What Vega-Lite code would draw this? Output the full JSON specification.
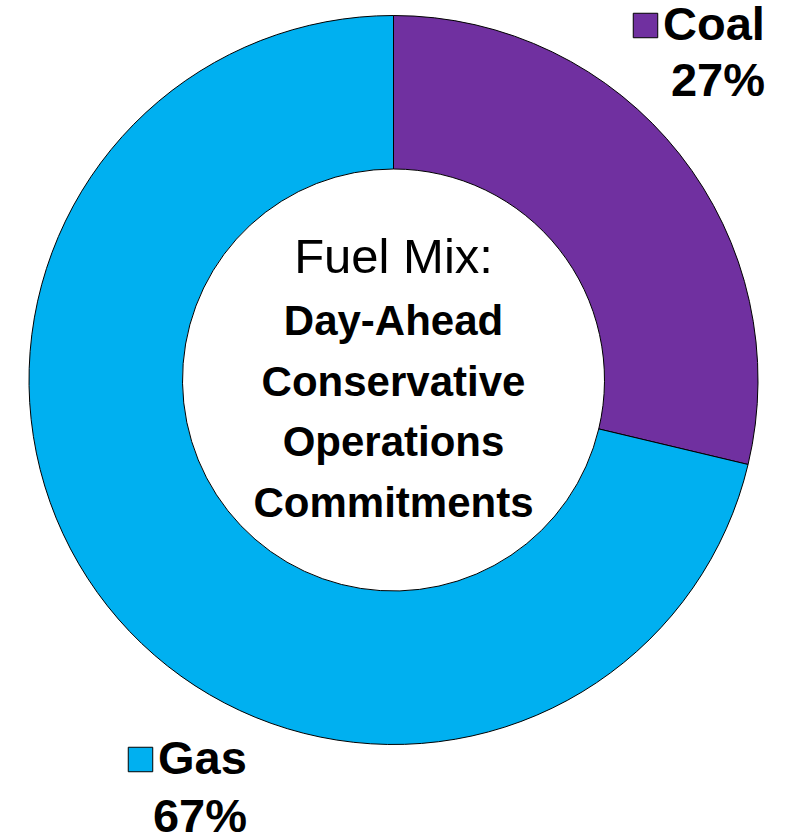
{
  "$schema": "https://vega.github.io/schema/vega-lite/v6.json",
  "width": 787,
  "height": 760,
  "autosize": {"type": "none"},
  "padding": {"left": 0, "top": 0, "right": 3, "bottom": 79},
  "background": "#ffffff",
  "config": {"view": {"stroke": null}},
  "data": {"values": [{"fuel": "Coal", "share": 27}, {"fuel": "Gas", "share": 67}]},
  "transform": [
    {"stack": "share", "groupby": [], "sort": [{"field": "fuel", "order": "ascending"}], "as": ["start", "end"]}
  ],
  "layer": [
    {
      "transform": [{"filter": "datum.fuel === 'Coal'"}],
      "mark": {"type": "arc", "outerRadius": 364.5, "innerRadius": 211, "stroke": "#000000", "strokeWidth": 1},
      "encoding": {
        "theta": {"field": "start", "type": "quantitative", "scale": {"domain": [0, 94]}},
        "theta2": {"field": "end"},
        "color": {
          "field": "fuel", "type": "nominal",
          "scale": {"range": ["#7030A0"]},
          "legend": {
            "orient": "none", "legendX": 622, "legendY": 2,
            "title": "27%", "titleOrient": "bottom", "titleAnchor": "end",
            "titleFont": "Liberation Sans", "titleFontSize": 47, "titleFontWeight": "bold", "titleColor": "#000000", "titlePadding": 10,
            "symbolType": "square", "symbolSize": 600, "symbolStrokeColor": "#000000", "symbolStrokeWidth": 1, "symbolOpacity": 1,
            "labelFont": "Liberation Sans", "labelFontSize": 47, "labelFontWeight": "bold", "labelColor": "#000000", "labelOffset": -6, "labelLimit": 0,
            "padding": 0
          }
        }
      }
    },
    {
      "transform": [{"filter": "datum.fuel === 'Gas'"}],
      "mark": {"type": "arc", "outerRadius": 364.5, "innerRadius": 211, "stroke": "#000000", "strokeWidth": 1},
      "encoding": {
        "theta": {"field": "start", "type": "quantitative", "scale": {"domain": [0, 94]}},
        "theta2": {"field": "end"},
        "color": {
          "field": "fuel", "type": "nominal",
          "scale": {"range": ["#00B0F0"]},
          "legend": {
            "orient": "none", "legendX": 117, "legendY": 736,
            "title": "67%", "titleOrient": "bottom", "titleAnchor": "end",
            "titleFont": "Liberation Sans", "titleFontSize": 47, "titleFontWeight": "bold", "titleColor": "#000000", "titlePadding": 12,
            "symbolType": "square", "symbolSize": 600, "symbolStrokeColor": "#000000", "symbolStrokeWidth": 1, "symbolOpacity": 1,
            "labelFont": "Liberation Sans", "labelFontSize": 47, "labelFontWeight": "bold", "labelColor": "#000000", "labelOffset": -6, "labelLimit": 0,
            "padding": 0
          }
        }
      }
    },
    {
      "data": {"values": [{"line": "Fuel Mix:"}]},
      "mark": {"type": "text", "font": "Liberation Sans", "fontSize": 49, "color": "#000000", "align": "center", "baseline": "alphabetic", "dy": -107},
      "encoding": {"text": {"field": "line", "type": "nominal"}}
    },
    {
      "data": {"values": [{"line": "x"}]},
      "mark": {"type": "text", "text": ["Day-Ahead", "Conservative\u00a0\u00a0", "Operations", "Commitments"], "font": "Liberation Sans", "fontSize": 42, "fontWeight": "bold", "lineHeight": 60.7, "color": "#000000", "align": "center", "baseline": "alphabetic", "dy": -45},
      "encoding": {}
    }
  ],
  "resolve": {"scale": {"color": "independent", "theta": "shared"}, "legend": {"color": "independent"}}
}
